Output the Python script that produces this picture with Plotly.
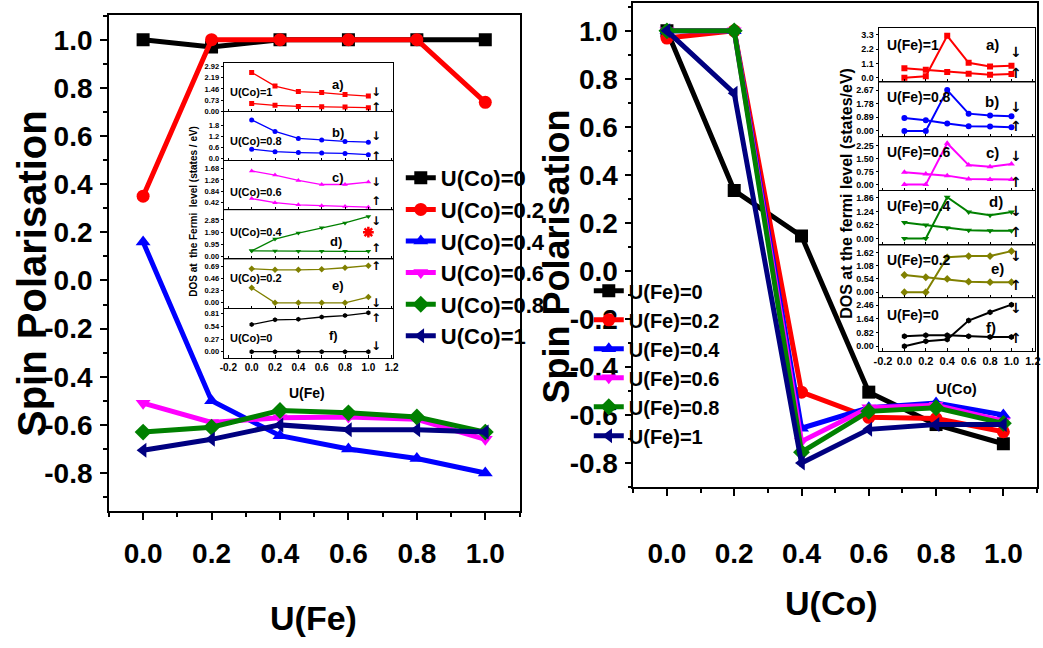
import plotly.graph_objects as go

W, H = 1043, 648
FONT = "Liberation Sans, Arial"
ARROW_FONT = "DejaVu Sans"

# ---------------- data ----------------
u_vals = [0.0, 0.2, 0.4, 0.6, 0.8, 1.0]

# Spin polarisation vs U(Fe), one curve per U(Co)
co_labels = ["U(Co)=0", "U(Co)=0.2", "U(Co)=0.4", "U(Co)=0.6", "U(Co)=0.8", "U(Co)=1"]
sp_co_0 = [1.0, 0.97, 1.0, 1.0, 1.0, 1.0]
sp_co_02 = [0.35, 1.0, 1.0, 1.0, 1.0, 0.74]
sp_co_04 = [0.16, -0.50, -0.645, -0.70, -0.74, -0.80]
sp_co_06 = [-0.51, -0.59, -0.57, -0.567, -0.577, -0.66]
sp_co_08 = [-0.63, -0.61, -0.54, -0.55, -0.567, -0.63]
sp_co_1 = [-0.705, -0.66, -0.60, -0.62, -0.62, -0.63]

# Spin polarisation vs U(Co), one curve per U(Fe)
fe_labels = ["U(Fe)=0", "U(Fe)=0.2", "U(Fe)=0.4", "U(Fe)=0.6", "U(Fe)=0.8", "U(Fe)=1"]
sp_fe_0 = [1.0, 0.335, 0.145, -0.505, -0.64, -0.72]
sp_fe_02 = [0.97, 1.0, -0.505, -0.61, -0.615, -0.67]
sp_fe_04 = [1.0, 1.0, -0.655, -0.57, -0.55, -0.60]
sp_fe_06 = [1.0, 1.0, -0.71, -0.57, -0.56, -0.625]
sp_fe_08 = [1.0, 1.0, -0.755, -0.585, -0.57, -0.635]
sp_fe_1 = [1.0, 0.74, -0.80, -0.66, -0.64, -0.64]

main_ticks = [-0.8, -0.6, -0.4, -0.2, 0.0, 0.2, 0.4, 0.6, 0.8, 1.0]
main_ticktext = ["-0.8", "-0.6", "-0.4", "-0.2", "0.0", "0.2", "0.4", "0.6", "0.8", "1.0"]
u_ticks = [0.0, 0.2, 0.4, 0.6, 0.8, 1.0]
u_ticktext = ["0.0", "0.2", "0.4", "0.6", "0.8", "1.0"]
inset_xticks = [-0.2, 0.0, 0.2, 0.4, 0.6, 0.8, 1.0, 1.2]
inset_xticktext = ["-0.2", "0.0", "0.2", "0.4", "0.6", "0.8", "1.0", "1.2"]

# DOS at the Fermi level vs U(Fe) (panels a..f: U(Co)=1 .. 0), two spin channels
dos_co_a_dn = [2.53, 1.65, 1.29, 1.23, 1.10, 1.00]
dos_co_a_up = [0.52, 0.40, 0.33, 0.31, 0.29, 0.25]
dos_co_b_dn = [2.13, 1.49, 1.10, 1.01, 0.93, 0.89]
dos_co_b_up = [0.50, 0.36, 0.31, 0.29, 0.26, 0.19]
dos_co_c_dn = [1.59, 1.44, 1.24, 1.09, 1.09, 1.18]
dos_co_c_up = [0.57, 0.42, 0.34, 0.30, 0.28, 0.25]
dos_co_d_dn = [0.46, 1.37, 1.83, 2.24, 2.62, 3.12]
dos_co_d_up = [0.46, 0.44, 0.42, 0.42, 0.42, 0.42]
dos_co_e_up = [0.65, 0.63, 0.63, 0.64, 0.67, 0.71]
dos_co_e_dn = [0.29, 0.0, 0.0, 0.0, 0.0, 0.11]
dos_co_f_up = [0.58, 0.68, 0.69, 0.74, 0.77, 0.83]
dos_co_f_dn = [0.0, 0.0, 0.0, 0.0, 0.0, 0.0]
star_point = [1.0, 1.9]

co_panel_ticks = [
    [0.0, 0.73, 1.46, 2.19, 2.92],
    [0.0, 0.6, 1.2, 1.8],
    [0.42, 0.84, 1.26, 1.68],
    [0.0, 0.95, 1.90, 2.85],
    [0.0, 0.23, 0.46, 0.69],
    [0.0, 0.27, 0.54, 0.81],
]
co_panel_ticktext = [
    ["0.00", "0.73", "1.46", "2.19", "2.92"],
    ["0.0", "0.6", "1.2", "1.8"],
    ["0.42", "0.84", "1.26", "1.68"],
    ["0.00", "0.95", "1.90", "2.85"],
    ["0.00", "0.23", "0.46", "0.69"],
    ["0.00", "0.27", "0.54", "0.81"],
]

# DOS at the Fermi level vs U(Co) (panels a..f: U(Fe)=1 .. 0), two spin channels
dos_fe_a_up = [0.73, 0.61, 0.44, 0.32, 0.24, 0.29]
dos_fe_a_dn = [0.0, 0.12, 3.23, 1.15, 0.86, 0.93]
dos_fe_b_up = [0.84, 0.70, 0.48, 0.31, 0.29, 0.24]
dos_fe_b_dn = [0.0, 0.0, 2.67, 1.13, 1.01, 0.96]
dos_fe_c_up = [0.71, 0.62, 0.52, 0.33, 0.29, 0.29]
dos_fe_c_dn = [0.0, 0.0, 2.40, 1.13, 1.04, 1.19]
dos_fe_d_up = [0.73, 0.62, 0.48, 0.38, 0.35, 0.35]
dos_fe_d_dn = [0.0, 0.0, 1.89, 1.21, 1.06, 1.21]
dos_fe_e_up = [0.70, 0.61, 0.54, 0.43, 0.41, 0.41]
dos_fe_e_dn = [0.0, 0.0, 1.42, 1.47, 1.47, 1.67]
dos_fe_f_up = [0.60, 0.66, 0.66, 0.60, 0.55, 0.55]
dos_fe_f_dn = [0.0, 0.30, 0.40, 1.54, 2.04, 2.50]

fe_panel_ticks = [
    [0.0, 1.1, 2.2, 3.3],
    [0.0, 0.89, 1.78, 2.67],
    [0.0, 0.75, 1.50, 2.25],
    [0.0, 0.62, 1.24, 1.86],
    [0.0, 0.54, 1.08, 1.62],
    [0.0, 0.82, 1.64, 2.46],
]
fe_panel_ticktext = [
    ["0.0", "1.1", "2.2", "3.3"],
    ["0.00", "0.89", "1.78", "2.67"],
    ["0.00", "0.75", "1.50", "2.25"],
    ["0.00", "0.62", "1.24", "1.86"],
    ["0.00", "0.54", "1.08", "1.62"],
    ["0.00", "0.82", "1.64", "2.46"],
]

# ---------------- styles ----------------
main_colors = ["#000000", "#ff0000", "#0000ff", "#ff00ff", "#008000", "#000080"]
main_symbols = ["square", "circle", "triangle-up", "triangle-down", "diamond", "triangle-left"]
panel_colors = ["#ff0000", "#0000ff", "#ff00ff", "#008000", "#808000", "#000000"]
panel_symbols = ["square", "circle", "triangle-up", "triangle-down", "diamond", "hexagon"]


def px(xp):
    return xp / W


def py(yp):
    return 1 - yp / H


fig = go.Figure()

# ---------------- main panels ----------------
left_series = [sp_co_0, sp_co_02, sp_co_04, sp_co_06, sp_co_08, sp_co_1]
right_series = [sp_fe_0, sp_fe_02, sp_fe_04, sp_fe_06, sp_fe_08, sp_fe_1]

for i, ys in enumerate(left_series):
    fig.add_trace(go.Scatter(
        x=u_vals, y=ys, name=co_labels[i], mode="lines+markers",
        line=dict(color=main_colors[i], width=5),
        marker=dict(color=main_colors[i], symbol=main_symbols[i], size=13),
        xaxis="x", yaxis="y", legend="legend"))

for i, ys in enumerate(right_series):
    fig.add_trace(go.Scatter(
        x=u_vals, y=ys, name=fe_labels[i], mode="lines+markers",
        line=dict(color=main_colors[i], width=5),
        marker=dict(color=main_colors[i], symbol=main_symbols[i], size=13),
        xaxis="x2", yaxis="y2", legend="legend2"))

# ---------------- inset panels ----------------
co_panels = [
    (dos_co_a_dn, dos_co_a_up),
    (dos_co_b_dn, dos_co_b_up),
    (dos_co_c_dn, dos_co_c_up),
    (dos_co_d_dn, dos_co_d_up),
    (dos_co_e_up, dos_co_e_dn),
    (dos_co_f_up, dos_co_f_dn),
]
fe_panels = [
    (dos_fe_a_up, dos_fe_a_dn),
    (dos_fe_b_up, dos_fe_b_dn),
    (dos_fe_c_up, dos_fe_c_dn),
    (dos_fe_d_up, dos_fe_d_dn),
    (dos_fe_e_up, dos_fe_e_dn),
    (dos_fe_f_up, dos_fe_f_dn),
]

for k, pair in enumerate(co_panels):
    ax = k + 3
    for ys in pair:
        fig.add_trace(go.Scatter(
            x=u_vals, y=ys, mode="lines+markers", showlegend=False,
            line=dict(color=panel_colors[k], width=1.3),
            marker=dict(color=panel_colors[k], symbol=panel_symbols[k], size=5),
            xaxis=f"x{ax}", yaxis=f"y{ax}"))

fig.add_trace(go.Scatter(
    x=[star_point[0]], y=[star_point[1]], mode="markers", showlegend=False,
    marker=dict(symbol="asterisk-open", size=9, color="#ff0000",
                line=dict(color="#ff0000", width=2.5)),
    xaxis="x6", yaxis="y6"))

for k, pair in enumerate(fe_panels):
    ax = k + 9
    for ys in pair:
        fig.add_trace(go.Scatter(
            x=u_vals, y=ys, mode="lines+markers", showlegend=False,
            line=dict(color=panel_colors[k], width=2),
            marker=dict(color=panel_colors[k], symbol=panel_symbols[k], size=6),
            xaxis=f"x{ax}", yaxis=f"y{ax}"))

# ---------------- axes ----------------
main_font = dict(family=FONT, size=28, color="black", weight="bold")
axis_common = dict(showline=True, linecolor="black", linewidth=1.5, mirror=True,
                   showgrid=False, zeroline=False, ticks="outside", ticklen=7,
                   tickwidth=1.5, tickcolor="black", tickfont=main_font)
minor_ticks = dict(ticks="outside", ticklen=4, tickwidth=1.5, dtick=0.1, tick0=0.0)

layout = dict(
    width=W, height=H, margin=dict(l=0, r=0, t=0, b=0),
    paper_bgcolor="white", plot_bgcolor="white",
    xaxis=dict(domain=[px(105), px(520)], range=[-0.1, 1.1], anchor="y",
               tickvals=u_ticks, ticktext=u_ticktext, ticklabelstandoff=10,
               minor=minor_ticks, **axis_common),
    yaxis=dict(domain=[py(514), py(15)], range=[-0.957, 1.103], anchor="x",
               tickvals=main_ticks, ticktext=main_ticktext, ticklabelstandoff=2,
               minor=minor_ticks, **axis_common),
    xaxis2=dict(domain=[px(635), 1.0], range=[-0.1, 1.1], anchor="y2",
                tickvals=u_ticks, ticktext=u_ticktext, ticklabelstandoff=34,
                minor=minor_ticks, **axis_common),
    yaxis2=dict(domain=[py(490), py(3)], range=[-0.9, 1.116], anchor="x2",
                tickvals=main_ticks, ticktext=main_ticktext, ticklabelstandoff=1,
                minor=minor_ticks, **axis_common),
)

co_bounds = [63, 112.5, 162, 211.5, 261, 310.5, 360]
co_ranges = [[-0.02, 3.17], [-0.16, 2.58], [0.14, 1.96], [-0.2, 3.6], [-0.11, 0.83], [-0.13, 0.92]]
fe_bounds = [28, 83, 138, 192, 247, 300, 353]
fe_ranges = [[-0.36, 3.84], [-0.41, 3.17], [-0.36, 2.75], [-0.32, 2.18], [-0.24, 1.9], [-0.28, 2.89]]

small_font = dict(family=FONT, size=7.5, color="black", weight="bold")
mid_font = dict(family=FONT, size=9, color="black", weight="bold")

for k in range(6):
    ax = k + 3
    bottom = k == 5
    layout[f"xaxis{ax}"] = dict(
        domain=[px(221), px(392)], range=[-0.24, 1.21], anchor=f"y{ax}",
        showline=True, linecolor="black", linewidth=1, mirror=True, showgrid=False,
        zeroline=False, ticks="inside", ticklen=3, tickcolor="black",
        tickvals=inset_xticks, ticktext=inset_xticktext, showticklabels=bottom,
        tickfont=dict(family=FONT, size=10, color="black", weight="bold"))
    layout[f"yaxis{ax}"] = dict(
        domain=[py(co_bounds[k + 1]), py(co_bounds[k])], range=co_ranges[k], anchor=f"x{ax}",
        showline=True, linecolor="black", linewidth=1, mirror=True, showgrid=False,
        zeroline=False, ticks="outside", ticklen=2, tickcolor="black",
        tickvals=co_panel_ticks[k], ticktext=co_panel_ticktext[k], tickfont=small_font)

for k in range(6):
    ax = k + 9
    bottom = k == 5
    layout[f"xaxis{ax}"] = dict(
        domain=[px(883), px(1041)], range=[-0.24, 1.22], anchor=f"y{ax}",
        showline=True, linecolor="black", linewidth=1, mirror=True, showgrid=False,
        zeroline=False, ticks="inside", ticklen=3, tickcolor="black",
        tickvals=inset_xticks, ticktext=inset_xticktext, showticklabels=bottom,
        tickfont=dict(family=FONT, size=11, color="black", weight="bold"))
    layout[f"yaxis{ax}"] = dict(
        domain=[py(fe_bounds[k + 1]), py(fe_bounds[k])], range=fe_ranges[k], anchor=f"x{ax}",
        showline=True, linecolor="black", linewidth=1, mirror=True, showgrid=False,
        zeroline=False, ticks="outside", ticklen=2, tickcolor="black",
        tickvals=fe_panel_ticks[k], ticktext=fe_panel_ticktext[k], tickfont=mid_font)

layout["legend"] = dict(x=px(400), y=py(158), xanchor="left", yanchor="top",
                        bgcolor="rgba(0,0,0,0)", tracegroupgap=0,
                        font=dict(family=FONT, size=22, color="black", weight="bold"))
layout["legend2"] = dict(x=px(590), y=py(273), xanchor="left", yanchor="top",
                         bgcolor="rgba(0,0,0,0)", tracegroupgap=0,
                         font=dict(family=FONT, size=20, color="black", weight="bold"))
fig.update_layout(**layout)


def note(text, x, y, size, xanchor="center", angle=0, family=FONT):
    fig.add_annotation(text=text, x=px(x), y=py(y), xref="paper", yref="paper",
                       showarrow=False, xanchor=xanchor, yanchor="middle", textangle=angle,
                       font=dict(family=family, size=size, color="black", weight="bold"))


# axis titles
note("Spin Polarisation", 28, 275, 40, angle=-90)
note("Spin Polarisation", 557, 258, 36, angle=-90)
note("U(Fe)", 312, 622, 34)
note("U(Co)", 835, 607, 34)
note("DOS at  the Fermi  level (states / eV)", 191, 212, 10, angle=-90)
note("U(Fe)", 305, 395, 14)
note("DOS at the fermi level (states/eV)", 851, 195, 16, angle=-90)
note("U(Co)", 962, 391, 15)

# panel captions
co_caps = ["U(Co)=1", "U(Co)=0.8", "U(Co)=0.6", "U(Co)=0.4", "U(Co)=0.2", "U(Co)=0"]
co_cap_y = [93, 142, 193, 233, 280, 340]
co_letters = ["a)", "b)", "c)", "d)", "e)", "f)"]
co_letter_xy = [(337, 85), (337, 133), (337, 179), (335, 243), (337, 287), (332, 338)]
for cap, yy in zip(co_caps, co_cap_y):
    note(cap, 225, yy, 11, xanchor="left")
for let, (xx, yy) in zip(co_letters, co_letter_xy):
    note(let, xx, yy, 13)

fe_caps = ["U(Fe)=1", "U(Fe)=0.8", "U(Fe)=0.6", "U(Fe)=0.4", "U(Fe)=0.2", "U(Fe)=0"]
fe_cap_y = [45, 98, 153, 207, 262, 317]
fe_letter_xy = [(998, 45), (998, 102), (998, 153), (1002, 203), (1003, 270), (997, 330)]
for cap, yy in zip(fe_caps, fe_cap_y):
    note(cap, 889, yy, 14, xanchor="left")
for let, (xx, yy) in zip(co_letters, fe_letter_xy):
    note(let, xx, yy, 15)

# spin-channel arrows
co_arrows = [("↓", 93), ("↑", 108), ("↓", 137), ("↑", 157), ("↓", 183), ("↑", 202),
             ("↓", 222), ("↑", 250), ("↑", 268), ("↓", 305), ("↑", 320), ("↓", 348)]
for sym, yy in co_arrows:
    note(sym, 375, yy, 12, family=ARROW_FONT)
fe_arrows = [("↓", 52), ("↑", 73), ("↓", 108), ("↑", 127), ("↓", 157), ("↑", 183),
             ("↓", 212), ("↑", 233), ("↓", 258), ("↑", 287), ("↓", 310), ("↑", 340)]
for sym, yy in fe_arrows:
    note(sym, 1022, yy, 14, family=ARROW_FONT)

fig.write_html("out.html")
